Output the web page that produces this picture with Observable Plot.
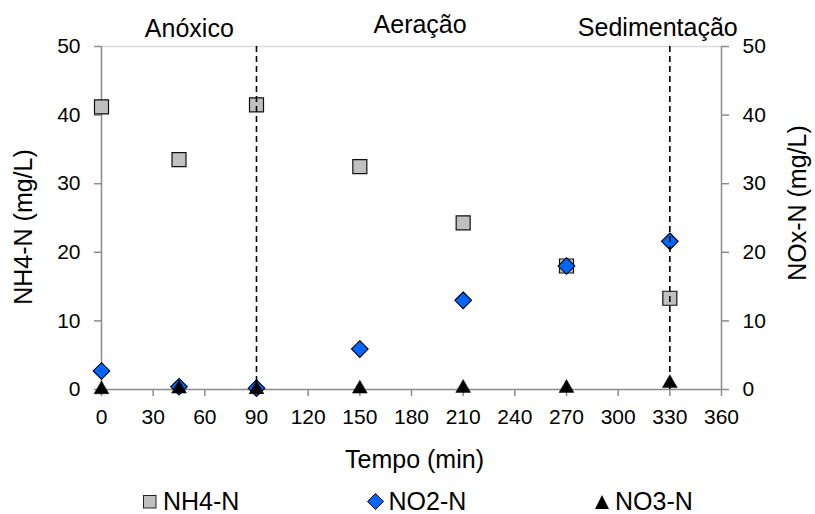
<!DOCTYPE html>
<html>
<head>
<meta charset="utf-8">
<script src="https://cdn.jsdelivr.net/npm/d3@7"></script>
<script src="https://cdn.jsdelivr.net/npm/@observablehq/plot@0.6"></script>
<style>
  html, body { margin: 0; padding: 0; background: white; }
  #wrap { position: relative; width: 815px; height: 514px; font-family: "Liberation Sans", Arial, sans-serif; overflow: hidden; }
  #chart svg { display: block; }
  .item { position: absolute; top: 489px; height: 25px; display: flex; align-items: center; font-size: 25px; line-height: 25px; color: #000; white-space: nowrap; }
  .item svg { display: block; overflow: visible; }
</style>
</head>
<body>
<div id="wrap">
  <div id="chart"></div>
  <div id="legend"></div>
</div>
<script>
// ---- data ----
const times = [0, 45, 90, 150, 210, 270, 330];
const nh4 = [41.2, 33.5, 41.5, 32.5, 24.3, 18.0, 13.3];
const no2 = [2.7, 0.4, 0.2, 5.9, 13.0, 18.0, 21.6];
const no3 = [0, 0.1, 0, 0.1, 0.2, 0.2, 0.9];
const seriesNames = ["NH4-N", "NO2-N", "NO3-N"];
const xTicks = [0, 30, 60, 90, 120, 150, 180, 210, 240, 270, 300, 330, 360];
const yTicks = [0, 10, 20, 30, 40, 50];
const phaseLabels = ["Anóxico", "Aeração", "Sedimentação"];
const phaseX = [51, 185, 323];
const phaseY = [52.6, 53.2, 52.7];
const phaseBoundaries = [90, 330];
const xTitle = "Tempo (min)";
const yLeftTitle = "NH4-N (mg/L)";
const yRightTitle = "NOx-N (mg/L)";

const rowsNH4 = times.map((t, i) => ({t, v: nh4[i]}));
const rowsNO2 = times.map((t, i) => ({t, v: no2[i]}));
const rowsNO3 = times.map((t, i) => ({t, v: no3[i]}));
const phases = phaseLabels.map((label, i) => ({label, x: phaseX[i], y: phaseY[i]}));

const axisGray = "#8c8c8c";
const font = "Liberation Sans, Arial, sans-serif";

const chart = Plot.plot({
  width: 815,
  height: 470,
  marginTop: 46,
  marginBottom: 81,
  marginLeft: 101,
  marginRight: 94,
  style: {fontFamily: font, fontSize: "21px", color: "black", background: "white", overflow: "visible"},
  x: {domain: [0, 360]},
  y: {domain: [0, 50]},
  marks: [
    Plot.ruleY([50], {stroke: "#d9d9d9", strokeWidth: 1.5}),
    Plot.ruleY([0], {stroke: axisGray, strokeWidth: 1.5}),
    Plot.ruleX([0, 360], {stroke: axisGray, strokeWidth: 1.5}),
    Plot.axisX(xTicks, {tickSize: 7, tickPadding: 13, stroke: axisGray, strokeWidth: 1.5, label: null, tickFormat: d => String(d)}),
    Plot.axisY(yTicks, {anchor: "left", tickSize: 7, tickPadding: 14, stroke: axisGray, strokeWidth: 1.5, label: null, tickFormat: d => String(d)}),
    Plot.axisY(yTicks, {anchor: "right", tickSize: 7, tickPadding: 14, stroke: axisGray, strokeWidth: 1.5, label: null, tickFormat: d => String(d)}),
    Plot.dot(rowsNH4, {x: "t", y: "v", symbol: "square", r: 7.9, fill: "#c0c0c0", stroke: "#111", strokeWidth: 1.2}),
    Plot.dot(rowsNO2, {x: "t", y: "v", symbol: "diamond2", r: 7.5, fill: "#0066ff", stroke: "#000", strokeWidth: 1.1}),
    Plot.dot(rowsNO3, {x: "t", y: "v", symbol: "triangle", r: 5.5, fill: "#000", stroke: "#000", strokeWidth: 0.5}),
    Plot.ruleX(phaseBoundaries, {stroke: "#000", strokeWidth: 1.6, strokeDasharray: "6,4"}),
    Plot.text(phases, {x: "x", y: "y", text: "label", fontSize: 25, lineAnchor: "middle", fill: "#000"}),
    Plot.text([xTitle], {frameAnchor: "bottom", dx: 3, dy: 70, lineAnchor: "middle", fontSize: 25, fill: "#000"}),
    Plot.text([yLeftTitle], {frameAnchor: "left", textAnchor: "middle", rotate: -90, dx: -78, dy: 9, lineAnchor: "middle", fontSize: 25, fill: "#000"}),
    Plot.text([yRightTitle], {frameAnchor: "right", textAnchor: "middle", rotate: -90, dx: 76, dy: -15, lineAnchor: "middle", fontSize: 25, fill: "#000"})
  ]
});
document.getElementById("chart").appendChild(chart);

// ---- legend ----
const legend = d3.select("#legend");
const legendDefs = [
  {left: 143, w: 14, h: 14, gap: 6, draw: s => s.append("rect").attr("x", 0.5).attr("y", 0.5).attr("width", 12.5).attr("height", 12.5).attr("fill", "#c0c0c0").attr("stroke", "#222").attr("stroke-width", 1)},
  {left: 366.5, w: 17, h: 17, gap: 5, draw: s => s.append("path").attr("d", "M8.5,0.5L16.5,8.5L8.5,16.5L0.5,8.5Z").attr("fill", "#0066ff").attr("stroke", "#000").attr("stroke-width", 1)},
  {left: 595, w: 14, h: 14, gap: 6, draw: s => s.append("path").attr("d", "M7,0L14,14L0,14Z").attr("fill", "#000")}
];
seriesNames.forEach((name, i) => {
  const def = legendDefs[i];
  const item = legend.append("div").attr("class", "item").style("left", def.left + "px");
  const svg = item.append("svg").attr("width", def.w).attr("height", def.h);
  def.draw(svg);
  item.append("span").style("margin-left", def.gap + "px").text(name);
});
</script>
</body>
</html>
